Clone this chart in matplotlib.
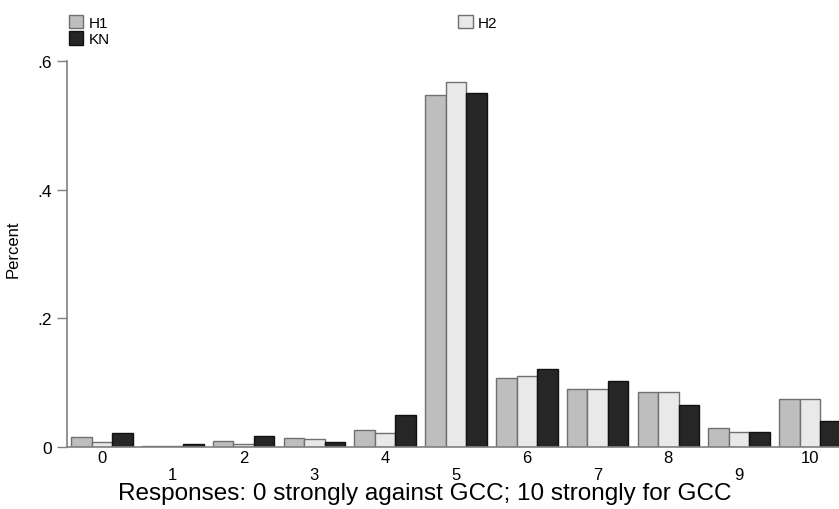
import matplotlib
matplotlib.use("Agg")
import matplotlib.pyplot as plt
import numpy as np
from matplotlib.patches import Patch

plt.rcParams["font.family"] = ["Liberation Sans", "DejaVu Sans"]

responses = list(range(11))
h1 = [0.016, 0.002, 0.009, 0.014, 0.027, 0.547, 0.107, 0.090, 0.086, 0.030, 0.074]
h2 = [0.007, 0.002, 0.005, 0.012, 0.021, 0.567, 0.110, 0.090, 0.086, 0.024, 0.075]
kn = [0.021, 0.005, 0.017, 0.007, 0.049, 0.550, 0.122, 0.102, 0.065, 0.024, 0.041]
series = ["H1", "H2", "KN"]
y_ticks = [0, 0.2, 0.4, 0.6]
y_tick_labels = ["0", ".2", ".4", ".6"]

colors = {"H1": "#bebebe", "H2": "#e9e9e9", "KN": "#262626"}
edges = {"H1": "#707070", "H2": "#707070", "KN": "#111111"}

fig = plt.figure(figsize=(8.39, 5.10), dpi=100)
ax = fig.add_axes([67 / 839, 1 - 448 / 510, 1 - 67 / 839, (448 - 62) / 510])

x = np.arange(len(responses))
width = 0.29
for i, (name, vals) in enumerate(zip(series, [h1, h2, kn])):
    ax.bar(x + (i - 1) * width, vals, width, color=colors[name],
           edgecolor=edges[name], linewidth=1.0, label=name)

ax.set_xlim(-0.494, 10.41)
ax.set_ylim(0, 0.6)
ax.set_yticks(y_ticks)
ax.set_yticklabels(y_tick_labels, fontsize=12.5)
ax.tick_params(axis="y", length=7, width=1, color="#808080", pad=4)

ax.set_xticks(x)
ax.set_xticklabels([str(r) for r in responses], fontsize=12)
ax.tick_params(axis="x", length=0, pad=2)
# odd labels sit one line lower, as in the original
for j, lab in enumerate(ax.get_xticklabels()):
    if j % 2 == 1:
        lab.set_y(-0.044)

for side in ["top", "right"]:
    ax.spines[side].set_visible(False)
for side in ["left", "bottom"]:
    ax.spines[side].set_color("#808080")
    ax.spines[side].set_linewidth(1.2)

fig.text(13 / 839, 1 - 249 / 510, "Percent", rotation=90, fontsize=12,
         ha="center", va="center")
fig.text(425 / 839, 1 - 494 / 510,
         "Responses: 0 strongly against GCC; 10 strongly for GCC",
         fontsize=17.5, ha="center", va="center")

handles = [Patch(facecolor=colors[n], edgecolor=edges[n], label=n)
           for n in ["H1", "KN", "H2"]]
fig.legend(handles=handles, ncol=2, loc="upper left",
           bbox_to_anchor=(58 / 839, 1 - 5 / 510), frameon=False,
           fontsize=11, handlelength=0.95, handleheight=0.95,
           handletextpad=0.35, labelspacing=0.12, columnspacing=22.8,
           borderpad=0.2)

fig.savefig("out.png", dpi=100)
